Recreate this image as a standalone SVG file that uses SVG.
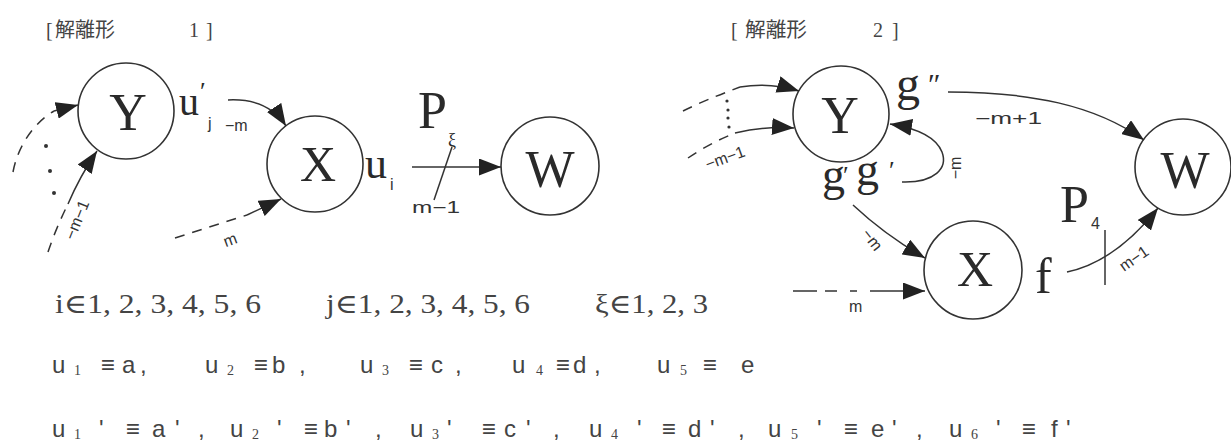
<svg xmlns="http://www.w3.org/2000/svg" width="1231" height="445" viewBox="0 0 1231 445">
<defs>
<style>
.nd{fill:none;stroke:#333;stroke-width:1.6}
.ln{fill:none;stroke:#333;stroke-width:1.5}
.ds{fill:none;stroke:#333;stroke-width:1.5;stroke-dasharray:10 8}
.big{font-family:"Liberation Serif",serif;fill:#2a2a2a}
.sm{font-family:"Liberation Sans","DejaVu Sans",sans-serif;fill:#333;font-size:16px}
.ttl{font-family:"Liberation Serif","Noto Sans CJK JP",serif;fill:#444;font-size:20px}
.row{font-family:"Liberation Sans","DejaVu Sans",sans-serif;fill:#444;font-size:24px}
.sub{font-family:"Liberation Serif",serif;fill:#444;font-size:14px}
.num{font-family:"Liberation Serif","DejaVu Serif",serif;fill:#444;font-size:27px}
</style>
<marker id="ah" viewBox="0 0 10 10" refX="10" refY="5" markerWidth="22" markerHeight="17" markerUnits="userSpaceOnUse" orient="auto" preserveAspectRatio="none"><path d="M0,0 L10,5 L0,10 z" fill="#222"/></marker>
</defs>
<rect width="1231" height="445" fill="#fff"/>

<g id="titles">
<text class="ttl" x="46" y="37">[</text>
<text class="ttl" x="55" y="37" textLength="60" lengthAdjust="spacingAndGlyphs">解離形</text>
<text class="ttl" x="189" y="37">1</text>
<text class="ttl" x="206" y="37">]</text>
<text class="ttl" x="731" y="37">[</text>
<text class="ttl" x="745" y="37" textLength="62" lengthAdjust="spacingAndGlyphs">解離形</text>
<text class="ttl" x="873" y="37">2</text>
<text class="ttl" x="892" y="37">]</text>
</g>

<g id="node-Y1"><circle class="nd" cx="126" cy="111" r="48"/><text class="big" x="128" y="130" font-size="52" text-anchor="middle">Y</text></g>
<g id="node-X1"><circle class="nd" cx="315" cy="164" r="48"/><text class="big" x="318" y="181" font-size="50" text-anchor="middle">X</text></g>
<g id="node-W1"><circle class="nd" cx="550" cy="166" r="49"/><text class="big" x="550" y="187" font-size="52" text-anchor="middle">W</text></g>

<g id="node-Y2"><circle class="nd" cx="841" cy="114" r="48"/><text class="big" x="840" y="133" font-size="52" text-anchor="middle">Y</text></g>
<g id="node-X2"><circle class="nd" cx="973" cy="270" r="49"/><text class="big" x="975" y="286" font-size="50" text-anchor="middle">X</text></g>
<g id="node-W2"><circle class="nd" cx="1183" cy="167" r="48"/><text class="big" x="1185" y="188" font-size="52" text-anchor="middle">W</text></g>

<g id="connectors">
<path class="ln" d="M228,100 Q268,98 286,126" marker-end="url(#ah)"/>
<path class="ln" d="M412,167 L501,167" marker-end="url(#ah)"/>
<path class="ln" d="M452,147 L434,200"/>
<path class="ds" d="M13,172 C18,145 35,122 54,111"/>
<path class="ln" d="M54,111 L78,105" marker-end="url(#ah)"/>
<path class="ds" d="M48,252 Q56,228 68,204"/>
<path class="ln" d="M68,204 Q80,176 97,151" marker-end="url(#ah)"/>
<path class="ds" d="M175,238 L247,215"/>
<path class="ln" d="M247,215 L281,199" marker-end="url(#ah)"/>
<g fill="#333"><circle cx="46" cy="146" r="2"/><circle cx="50" cy="171" r="2"/><circle cx="54" cy="193" r="2"/></g>
<path class="ln" d="M948,92 C1030,92 1095,105 1144,140" marker-end="url(#ah)"/>
<path class="ln" d="M902,182 C935,183 948,168 942,152 C936,137 915,128 890,124" marker-end="url(#ah)"/>
<path class="ln" d="M853,205 Q885,235 925,258" marker-end="url(#ah)"/>
<path class="ds" d="M683,111 Q705,100 740,87"/>
<path class="ln" d="M740,87 Q770,82 799,91" marker-end="url(#ah)"/>
<path class="ds" d="M688,158 Q710,143 735,133"/>
<path class="ln" d="M735,133 Q765,126 794,128" marker-end="url(#ah)"/>
<g fill="#333"><circle cx="727" cy="101" r="1.6"/><circle cx="728" cy="110" r="1.6"/><circle cx="728" cy="118" r="1.6"/><circle cx="729" cy="127" r="1.6"/></g>
<path class="ln" d="M793,291 H817 M825,291 H837 M850,291 H857"/>
<path class="ln" d="M870,291 L925,291" marker-end="url(#ah)"/>
<path class="ln" d="M1067,272 Q1115,262 1158,208" marker-end="url(#ah)"/>
<path class="ln" d="M1105,230 L1105,285"/>
</g>

<g id="labels">
<text class="big" x="179" y="115" font-size="40">u</text>
<text class="big" x="200" y="100" font-size="26">′</text>
<text class="sm" x="208" y="129">j</text>
<text class="sm" x="225" y="131">−m</text>
<text class="big" x="365" y="178" font-size="44">u</text>
<text class="sm" x="390" y="190">i</text>
<text class="big" x="418" y="128" font-size="52">P</text>
<text class="big" x="448" y="146" font-size="18">ξ</text>
<text class="sm" x="412" y="213" textLength="48" lengthAdjust="spacingAndGlyphs">m−1</text>
<text class="sm" transform="translate(82,222) rotate(-68)" text-anchor="middle">−m−1</text>
<text class="sm" transform="translate(232,245) rotate(-20)" text-anchor="middle">m</text>
<text class="big" x="896" y="100" font-size="48">g</text>
<text class="big" x="928" y="94" font-size="30">″</text>
<text class="sm" x="975" y="124" textLength="67" lengthAdjust="spacingAndGlyphs">−m+1</text>
<text class="sm" transform="translate(961,168) rotate(-90)" text-anchor="middle">−m</text>
<text class="big" x="822" y="190" font-size="46">g</text>
<text class="big" x="843" y="184" font-size="26">′</text>
<text class="big" x="856" y="185" font-size="46">g</text>
<text class="big" x="889" y="179" font-size="26">′</text>
<text class="sm" transform="translate(868,243) rotate(52)" text-anchor="middle">−m</text>
<text class="sm" transform="translate(727,163) rotate(-20)" text-anchor="middle">−m−1</text>
<text class="sm" x="849" y="312">m</text>
<text class="big" x="1035" y="293" font-size="50">f</text>
<text class="big" x="1060" y="222" font-size="52">P</text>
<text class="sm" x="1091" y="229">4</text>
<text class="sm" transform="translate(1137,263) rotate(-35)" text-anchor="middle">m−1</text>
</g>

<g id="sets">
<text class="num" x="55" y="313" textLength="206" lengthAdjust="spacingAndGlyphs">i∈1, 2, 3, 4, 5, 6</text>
<text class="num" x="326" y="313" textLength="204" lengthAdjust="spacingAndGlyphs">j∈1, 2, 3, 4, 5, 6</text>
<text class="num" x="595" y="313" textLength="113" lengthAdjust="spacingAndGlyphs">ξ∈1, 2, 3</text>
</g>

<g id="row1">
<text class="row" x="52" y="373">u</text><text class="sub" x="74" y="375">1</text><text class="row" x="101" y="373">≡</text><text class="row" x="122" y="373">a</text><text class="row" x="140" y="373">,</text>
<text class="row" x="205" y="373">u</text><text class="sub" x="227" y="375">2</text><text class="row" x="254" y="373">≡</text><text class="row" x="272" y="373">b</text><text class="row" x="299" y="373">,</text>
<text class="row" x="360" y="373">u</text><text class="sub" x="382" y="375">3</text><text class="row" x="409" y="373">≡</text><text class="row" x="431" y="373">c</text><text class="row" x="455" y="373">,</text>
<text class="row" x="512" y="373">u</text><text class="sub" x="536" y="375">4</text><text class="row" x="556" y="373">≡</text><text class="row" x="573" y="373">d</text><text class="row" x="594" y="373">,</text>
<text class="row" x="657" y="373">u</text><text class="sub" x="680" y="375">5</text><text class="row" x="703" y="373">≡</text><text class="row" x="741" y="373">e</text>
</g>

<g id="row2">
<text class="row" x="52" y="437">u</text><text class="sub" x="74" y="439">1</text><text class="row" x="99" y="437">'</text><text class="row" x="126" y="437">≡</text><text class="row" x="152" y="437">a</text><text class="row" x="175" y="437">'</text><text class="row" x="198" y="437">,</text>
<text class="row" x="230" y="437">u</text><text class="sub" x="252" y="439">2</text><text class="row" x="277" y="437">'</text><text class="row" x="304" y="437">≡</text><text class="row" x="324" y="437">b</text><text class="row" x="346" y="437">'</text><text class="row" x="375" y="437">,</text>
<text class="row" x="410" y="437">u</text><text class="sub" x="432" y="439">3</text><text class="row" x="447" y="437">'</text><text class="row" x="482" y="437">≡</text><text class="row" x="504" y="437">c</text><text class="row" x="526" y="437">'</text><text class="row" x="553" y="437">,</text>
<text class="row" x="589" y="437">u</text><text class="sub" x="611" y="439">4</text><text class="row" x="637" y="437">'</text><text class="row" x="662" y="437">≡</text><text class="row" x="688" y="437">d</text><text class="row" x="710" y="437">'</text><text class="row" x="738" y="437">,</text>
<text class="row" x="768" y="437">u</text><text class="sub" x="791" y="439">5</text><text class="row" x="817" y="437">'</text><text class="row" x="844" y="437">≡</text><text class="row" x="871" y="437">e</text><text class="row" x="892" y="437">'</text><text class="row" x="916" y="437">,</text>
<text class="row" x="949" y="437">u</text><text class="sub" x="971" y="439">6</text><text class="row" x="996" y="437">'</text><text class="row" x="1022" y="437">≡</text><text class="row" x="1051" y="437">f</text><text class="row" x="1066" y="437">'</text>
</g>
</svg>
